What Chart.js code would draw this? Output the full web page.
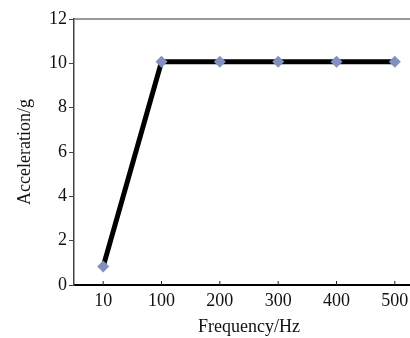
<!DOCTYPE html>
<html>
<head>
<meta charset="utf-8">
<script src="https://cdn.jsdelivr.net/npm/chart.js"></script>
<style>
  html, body { margin: 0; padding: 0; background: #fff; overflow: hidden; }
  #wrap { width: 430px; height: 338px; }
</style>
</head>
<body>
<div id="wrap"><canvas id="chart" width="430" height="338"></canvas></div>
<script>
const frequencies = ["10", "100", "200", "300", "400", "500"];
const acceleration = [0.83, 10.07, 10.07, 10.07, 10.07, 10.07];
const yTicks = [0, 2, 4, 6, 8, 10, 12];

const serif = "'Liberation Serif', 'Times New Roman', serif";

// top border + small inward ticks on the x axis
const frame = {
  id: "frame",
  afterDraw(chart) {
    const { ctx, chartArea } = chart;
    const x = chart.scales.x;
    ctx.save();
    ctx.strokeStyle = "#777";
    ctx.lineWidth = 1.5;
    ctx.beginPath();
    ctx.moveTo(chartArea.left, chartArea.top);
    ctx.lineTo(chartArea.right, chartArea.top);
    ctx.stroke();
    ctx.strokeStyle = "#222";
    ctx.lineWidth = 1;
    frequencies.forEach((f, i) => {
      const px = x.getPixelForValue(i);
      ctx.beginPath();
      ctx.moveTo(px, chartArea.bottom);
      ctx.lineTo(px, chartArea.bottom - 4);
      ctx.stroke();
    });
    ctx.restore();
  },
};

new Chart(document.getElementById("chart"), {
  type: "line",
  data: {
    labels: frequencies,
    datasets: [
      {
        data: acceleration,
        borderColor: "#000",
        borderWidth: 5,
        pointStyle: "rectRot",
        pointRadius: 6,
        pointBackgroundColor: "#8290bf",
        pointBorderColor: "#8290bf",
        pointBorderWidth: 0,
        tension: 0,
      },
    ],
  },
  options: {
    responsive: false,
    animation: false,
    layout: { padding: { top: 19, right: 4, left: 14, bottom: 0 } },
    plugins: { legend: { display: false }, tooltip: { enabled: false } },
    scales: {
      x: {
        offset: true,
        grid: { display: false, drawTicks: false },
        border: { display: true, color: "#000", width: 2 },
        ticks: { color: "#111", padding: 5, font: { family: serif, size: 18 } },
        title: {
          display: true,
          text: "Frequency/Hz",
          color: "#111",
          padding: { top: 8, bottom: 0 },
          font: { family: serif, size: 18 },
        },
        afterFit(scale) {
          scale.height = 53;
        },
      },
      y: {
        min: 0,
        max: 12,
        afterBuildTicks(scale) {
          scale.ticks = yTicks.map((v) => ({ value: v }));
        },
        grid: { drawOnChartArea: false, tickLength: 5, color: "#444" },
        border: { display: true, color: "#444", width: 1.5 },
        ticks: { color: "#111", padding: 2, font: { family: serif, size: 18 } },
        title: {
          display: true,
          text: "Acceleration/g",
          color: "#111",
          padding: { top: 0, bottom: 0 },
          font: { family: serif, size: 18 },
        },
        afterFit(scale) {
          scale.width = 60;
        },
      },
    },
  },
  plugins: [frame],
});
</script>
</body>
</html>
